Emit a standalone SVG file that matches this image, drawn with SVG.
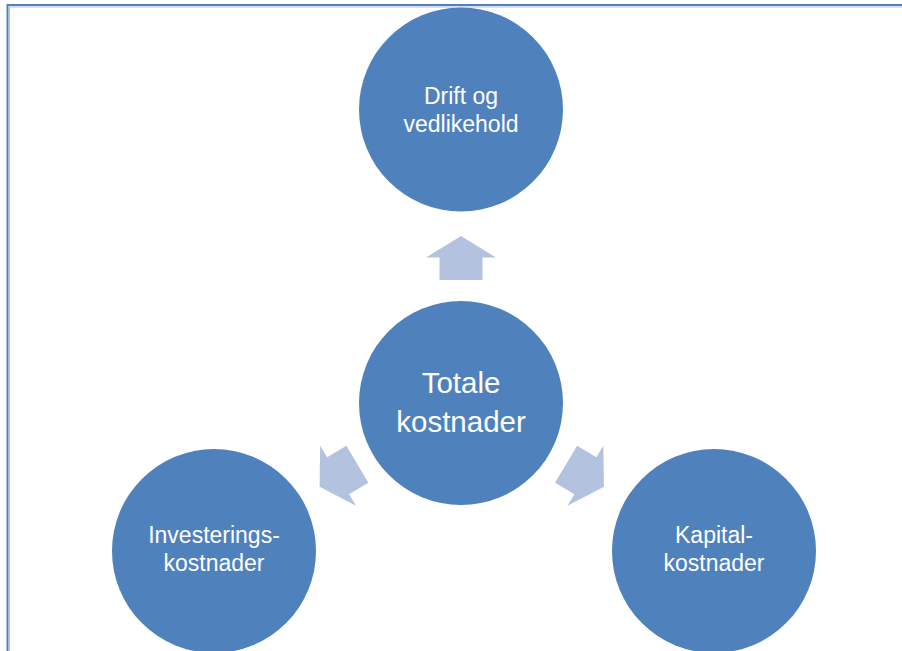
<svg xmlns="http://www.w3.org/2000/svg" width="902" height="651" viewBox="0 0 902 651">
  <style>
    .node { fill: #4F81BD; }
    .arrow { fill: #B3C2DE; }
    .lbl { fill: #FFFFFF; font-family: "Liberation Sans", "Open Sans", sans-serif; font-size: 23px; text-anchor: middle; }
    .big { font-size: 29.5px; }
    .frame { stroke: #4F81BD; stroke-width: 2; fill: none; }
    .frame2 { stroke: #A9C1E2; stroke-width: 1; fill: none; }
  </style>
  <defs>
    <path id="blockArrow" d="M0,-22 L35,-0.5 L21.5,-0.5 L21.5,22 L-21.5,22 L-21.5,-0.5 L-35,-0.5 Z"/>
  </defs>
  <rect x="0" y="0" width="902" height="651" fill="#FFFFFF"/>
  <g id="frame">
    <path class="frame" d="M7.5,651 L7.5,5 L902,5"/>
    <path class="frame2" d="M9.5,651 L9.5,7 L902,7"/>
  </g>
  <g id="connectors">
    <use href="#blockArrow" class="arrow" transform="translate(461,258)"/>
    <use href="#blockArrow" class="arrow" transform="translate(338.5,475.5) rotate(-120.8)"/>
    <use href="#blockArrow" class="arrow" transform="translate(585,475.5) rotate(120.8)"/>
  </g>
  <g id="node-drift">
    <circle class="node" cx="461" cy="109.5" r="102"/>
    <text class="lbl" x="461" y="104">Drift og</text>
    <text class="lbl" x="461" y="131.5">vedlikehold</text>
  </g>
  <g id="node-totale">
    <circle class="node" cx="461" cy="403" r="102"/>
    <text class="lbl big" x="461" y="393">Totale</text>
    <text class="lbl big" x="461" y="432">kostnader</text>
  </g>
  <g id="node-investering">
    <circle class="node" cx="214" cy="551" r="102"/>
    <text class="lbl" x="214" y="543">Investerings-</text>
    <text class="lbl" x="214" y="570.5">kostnader</text>
  </g>
  <g id="node-kapital">
    <circle class="node" cx="714" cy="551" r="102"/>
    <text class="lbl" x="714" y="543">Kapital-</text>
    <text class="lbl" x="714" y="570.5">kostnader</text>
  </g>
</svg>
